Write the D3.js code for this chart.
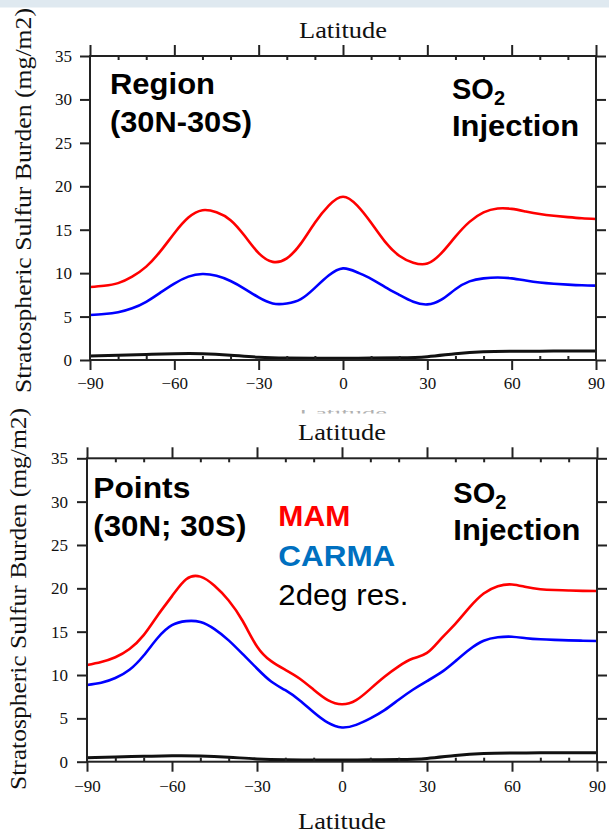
<!DOCTYPE html>
<html>
<head>
<meta charset="utf-8">
<script src="https://cdn.jsdelivr.net/npm/d3@7"></script>
<style>
  html, body { margin: 0; padding: 0; background: #fff; }
  svg { display: block; }
</style>
</head>
<body>
<svg id="chart" width="609" height="833"></svg>
<script>
// Tick values shared by both panels
const latTicks = [-90, -60, -30, 0, 30, 60, 90];
const latMinorTicks = d3.range(-90, 91, 10).filter(d => d % 30 !== 0);
const burdenTicks = [0, 5, 10, 15, 20, 25, 30, 35];

// Latitude grids of the zonal-mean series
const lat5 = d3.range(-90, 91, 5);
const lat10 = d3.range(-90, 91, 10);

// Region average (30N-30S) SO2 injection, burden in mg/m2 on lat5
const regionMAM = [
  8.4, 8.55, 8.85, 9.6, 10.75, 12.5, 14.6, 16.4, 17.25, 17.0, 16.1, 14.3, 12.3,
  11.3, 11.7, 13.4, 15.8, 17.8, 18.8, 17.8, 15.8, 13.6, 12.0, 11.2, 11.1, 12.3,
  14.2, 15.9, 17.0, 17.45, 17.4, 17.1, 16.8, 16.6, 16.45, 16.32, 16.23
];
const regionCARMA = [
  5.18, 5.3, 5.5, 5.95, 6.7, 7.75, 8.8, 9.6, 9.9, 9.7, 9.1, 8.2, 7.2,
  6.5, 6.5, 7.0, 8.3, 9.75, 10.55, 10.1, 9.35, 8.4, 7.5, 6.7, 6.4, 6.95,
  8.15, 9.05, 9.4, 9.5, 9.4, 9.15, 8.92, 8.78, 8.68, 8.6, 8.56
];
// Control run on lat10
const regionControl = [
  0.46, 0.55, 0.63, 0.72, 0.72, 0.55, 0.32, 0.22, 0.2, 0.2,
  0.22, 0.25, 0.38, 0.72, 0.95, 1.0, 1.02, 1.03, 1.04
];

// Point injection (30N; 30S), burden in mg/m2 on lat5
const pointsMAM = [
  11.15, 11.5, 12.05, 13.0, 14.6, 16.9, 19.1, 21.05, 21.35, 20.3, 18.6, 16.2, 13.3,
  11.6, 10.6, 9.6, 8.3, 7.1, 6.62, 7.1, 8.4, 9.8, 11.0, 11.9, 12.55, 14.2,
  15.9, 17.8, 19.4, 20.25, 20.45, 20.15, 19.9, 19.8, 19.75, 19.71, 19.69
];
const pointsCARMA = [
  8.85, 9.1, 9.65, 10.6, 12.25, 14.3, 15.75, 16.22, 16.12, 15.3, 14.0, 12.4, 10.75,
  9.25, 8.25, 7.1, 5.7, 4.5, 3.95, 4.25, 5.0, 5.95, 7.15, 8.3, 9.3, 10.3,
  11.6, 12.95, 13.95, 14.35, 14.42, 14.25, 14.12, 14.05, 14.0, 13.96, 13.92
];
const pointsControl = [
  0.46, 0.55, 0.62, 0.68, 0.66, 0.52, 0.32, 0.22, 0.2, 0.2,
  0.22, 0.25, 0.38, 0.72, 0.95, 1.0, 1.02, 1.03, 1.04
];

const seriesColors = { mam: "#ff0000", carma: "#0000ff", control: "#111111" };
const legendColors = { mam: "#ff0000", carma: "#0070c0", text: "#000000" };

const svg = d3.select("#chart");
const serif = "'Liberation Serif', 'Times New Roman', serif";
const sans = "'Liberation Sans', Arial, sans-serif";

// light header strip
svg.append("rect").attr("x", 0).attr("y", 0).attr("width", 609).attr("height", 7.5)
  .attr("fill", "#dfe9f0");

function drawPanel(cfg) {
  const x = d3.scaleLinear().domain([-90, 90]).range([cfg.left, cfg.right]);
  const y = d3.scaleLinear().domain([0, 35]).range([cfg.bottom, cfg.top]);
  const g = svg.append("g");

  const line = d3.line()
    .x(d => x(d[0])).y(d => y(d[1]))
    .curve(d3.curveNatural);
  const pairs = (lats, vals) => lats.map((la, i) => [la, vals[i]]);

  g.append("path").datum(pairs(lat10, cfg.control)).attr("d", line)
    .attr("fill", "none").attr("stroke", seriesColors.control).attr("stroke-width", 3);
  g.append("path").datum(pairs(lat5, cfg.carma)).attr("d", line)
    .attr("fill", "none").attr("stroke", seriesColors.carma).attr("stroke-width", 2.6);
  g.append("path").datum(pairs(lat5, cfg.mam)).attr("d", line)
    .attr("fill", "none").attr("stroke", seriesColors.mam).attr("stroke-width", 2.6);

  const axisColor = "#222";
  const styleAxis = sel => {
    sel.select(".domain").remove();
    sel.selectAll(".tick line").attr("stroke", axisColor).attr("stroke-width", 2);
    sel.selectAll(".tick text").attr("fill", "#111")
      .style("font-family", serif).style("font-size", "17px");
  };

  g.append("g").attr("transform", `translate(${cfg.left},0)`)
    .call(d3.axisLeft(y).tickValues(burdenTicks).tickSize(10).tickPadding(cfg.yPad))
    .call(styleAxis);
  g.append("g").attr("transform", `translate(${cfg.right},0)`)
    .call(d3.axisRight(y).tickValues(burdenTicks).tickSize(10).tickFormat(""))
    .call(styleAxis);
  g.append("g").attr("transform", `translate(0,${cfg.bottom})`)
    .call(d3.axisBottom(x).tickValues(latTicks).tickSize(10).tickPadding(cfg.xPad))
    .call(styleAxis);
  g.append("g").attr("transform", `translate(0,${cfg.top})`)
    .call(d3.axisTop(x).tickValues(latTicks).tickSize(11).tickFormat(""))
    .call(styleAxis);
  g.append("g").attr("transform", `translate(0,${cfg.top})`)
    .call(d3.axisTop(x).tickValues(latMinorTicks).tickSize(-4).tickFormat(""))
    .call(styleAxis);
  g.append("g").attr("transform", `translate(0,${cfg.bottom})`)
    .call(d3.axisBottom(x).tickValues(latMinorTicks).tickSize(-4).tickFormat(""))
    .call(styleAxis);

  g.append("rect")
    .attr("x", cfg.left).attr("y", cfg.top)
    .attr("width", cfg.right - cfg.left).attr("height", cfg.bottom - cfg.top)
    .attr("fill", "none").attr("stroke", axisColor).attr("stroke-width", 2);

  // axis titles
  g.append("text").text("Latitude")
    .attr("x", (cfg.left + cfg.right) / 2).attr("y", cfg.top - 18)
    .attr("text-anchor", "middle").attr("textLength", 88).attr("lengthAdjust", "spacingAndGlyphs")
    .style("font-family", serif).style("font-size", "23px").attr("fill", "#111");
  g.append("text").text("Stratospheric Sulfur Burden (mg/m2)")
    .attr("transform", `translate(${cfg.ylabX},${cfg.ylabY}) rotate(-90)`)
    .attr("text-anchor", "middle").attr("textLength", cfg.ylabLen).attr("lengthAdjust", "spacingAndGlyphs")
    .style("font-family", serif).style("font-size", "23px").attr("fill", "#111");

  // panel annotations
  const ann = (txt, ax, ay, len, color, weight) =>
    g.append("text").text(txt).attr("x", ax).attr("y", ay)
      .attr("textLength", len).attr("lengthAdjust", "spacingAndGlyphs")
      .style("font-family", sans).style("font-size", "29px")
      .style("font-weight", weight || "bold").attr("fill", color || "#000");

  ann(cfg.title1, cfg.left + cfg.titleDx, cfg.titleY, cfg.title1Len);
  ann(cfg.title2, cfg.left + cfg.titleDx, cfg.titleY + 38, cfg.title2Len);

  const so = g.append("text").attr("x", cfg.soX).attr("y", cfg.titleY + 5)
    .style("font-family", sans).style("font-size", "29px").style("font-weight", "bold");
  so.append("tspan").text("SO");
  so.append("tspan").text("2").attr("dy", 6).style("font-size", "20px");
  ann("Injection", cfg.soX, cfg.titleY + 42, 127);

  return { x, y, g };
}

const regionPanel = drawPanel({
  left: 90, right: 596, top: 56, bottom: 360,
  yPad: 8, xPad: 7,
  ylabX: 31, ylabY: 200.5, ylabLen: 385,
  mam: regionMAM, carma: regionCARMA, control: regionControl,
  title1: "Region", title2: "(30N-30S)", title1Len: 105, title2Len: 142,
  titleDx: 20, titleY: 93.5, soX: 452
});

// clipped remnant of a label under the lower panel
const clip = svg.append("clipPath").attr("id", "remnant");
clip.append("rect").attr("x", 0).attr("y", 410).attr("width", 609).attr("height", 3.5);
svg.append("text").text("Latitude")
  .attr("x", 343).attr("y", 416.5).attr("text-anchor", "middle")
  .attr("textLength", 88).attr("lengthAdjust", "spacingAndGlyphs")
  .attr("clip-path", "url(#remnant)")
  .style("font-family", serif).style("font-size", "12px").attr("fill", "#b0b0b0");

const pointsPanel = drawPanel({
  left: 87, right: 597, top: 458.3, bottom: 761.7,
  yPad: 9, xPad: 8,
  ylabX: 26, ylabY: 599, ylabLen: 382,
  mam: pointsMAM, carma: pointsCARMA, control: pointsControl,
  title1: "Points", title2: "(30N; 30S)", title1Len: 97, title2Len: 153,
  titleDx: 6.3, titleY: 498.3, soX: 453.3
});

// legend inside the lower panel
const legend = [
  { label: "MAM", color: legendColors.mam, weight: "bold", len: 72, y: 525.7 },
  { label: "CARMA", color: legendColors.carma, weight: "bold", len: 117, y: 565.7 },
  { label: "2deg res.", color: legendColors.text, weight: "normal", len: 130, y: 605 }
];
pointsPanel.g.selectAll("text.legend").data(legend).join("text")
  .attr("class", "legend")
  .attr("x", 278.3).attr("y", d => d.y)
  .attr("textLength", d => d.len).attr("lengthAdjust", "spacingAndGlyphs")
  .style("font-family", sans).style("font-size", "29px")
  .style("font-weight", d => d.weight).attr("fill", d => d.color)
  .text(d => d.label);

// x-axis title under the lower panel
svg.append("text").text("Latitude")
  .attr("x", 342).attr("y", 829).attr("text-anchor", "middle")
  .attr("textLength", 88).attr("lengthAdjust", "spacingAndGlyphs")
  .style("font-family", serif).style("font-size", "23px").attr("fill", "#111");
</script>
</body>
</html>
